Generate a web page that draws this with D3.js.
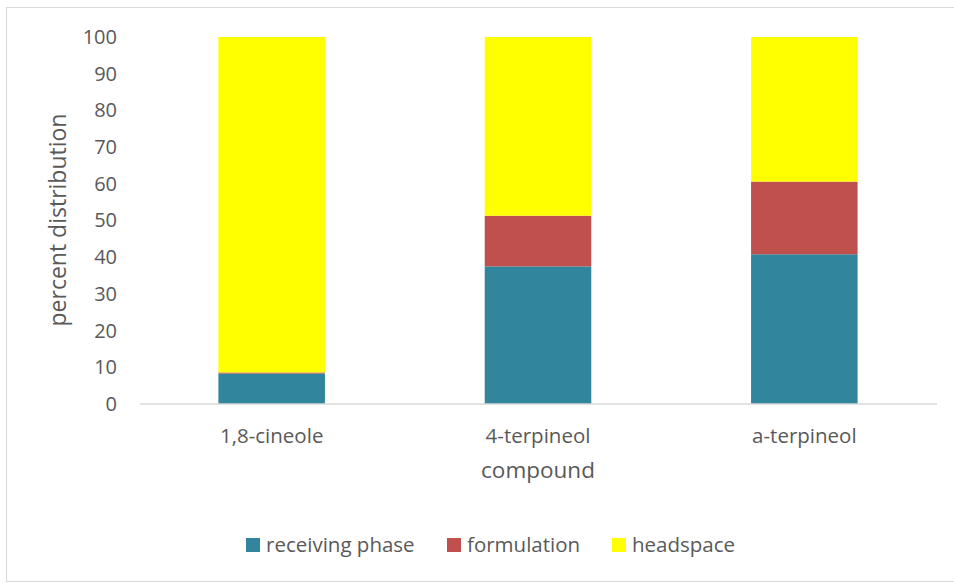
<!DOCTYPE html>
<html>
<head>
    <title>percent distribution by compound</title>
    <meta charset="utf-8">
    <style>
        body { margin: 0; background: #fff; }
        text { font-family: "Open Sans", Calibri, sans-serif; fill: #595959; }
    </style>
</head>
<body>

<svg id="svg"></svg>
<script src="https://cdn.jsdelivr.net/npm/d3@7"></script>
<script>
    // values (percent)
    const compounds = ['1,8-cineole', '4-terpineol', 'a-terpineol']
    const receivingPhase = [8.3, 37.5, 40.8]
    const formulation = [0.3, 13.8, 19.8]
    const headspace = [91.4, 48.7, 39.4]
    const seriesNames = ['receiving phase', 'formulation', 'headspace']
    const seriesColors = ['#31859C', '#C0504D', '#FFFF00']
    const yTicks = [0, 10, 20, 30, 40, 50, 60, 70, 80, 90, 100]

    const WIDTH = 954
    const HEIGHT = 583

    const svg = d3.select('svg')
        .attr('width', WIDTH)
        .attr('height', HEIGHT)

    // chart frame
    svg.append('rect')
        .attr('x', 6.5)
        .attr('y', 7.5)
        .attr('width', 960)
        .attr('height', 574)
        .attr('fill', 'none')
        .attr('stroke', '#d9d9d9')

    const rows = compounds.map((c, i) => ({
        compound: c,
        'receiving phase': receivingPhase[i],
        'formulation': formulation[i],
        'headspace': headspace[i]
    }))

    const stacked = d3.stack().keys(seriesNames)(rows)

    const x = d3.scaleBand()
        .domain(compounds)
        .range([138.5, 937.5])
        .paddingInner(0.6)
        .paddingOuter(0.3)

    const y = d3.scaleLinear()
        .domain([0, 100])
        .range([404, 37])

    const color = d3.scaleOrdinal().domain(seriesNames).range(seriesColors)

    svg.append('g')
        .selectAll('g')
        .data(stacked)
        .enter().append('g')
        .attr('fill', (s) => color(s.key))
        .selectAll('rect')
        .data((s) => s)
        .enter().append('rect')
        .attr('x', (d) => x(d.data.compound))
        .attr('width', x.bandwidth())
        .attr('y', (d) => y(d[1]))
        .attr('height', (d) => y(d[0]) - y(d[1]))

    // y axis: labels only
    const yAxis = svg.append('g')
        .attr('transform', 'translate(117,0)')
        .call(d3.axisLeft(y).tickValues(yTicks).tickSize(0).tickPadding(0))
    yAxis.select('.domain').remove()
    yAxis.selectAll('text')
        .attr('font-size', 20)
        .attr('fill', '#595959')
        .attr('font-family', '"Open Sans", sans-serif')

    // x axis
    const xAxis = svg.append('g')
        .attr('transform', 'translate(0,404)')
        .call(d3.axisBottom(x).tickSize(0).tickPadding(24))
    xAxis.select('.domain')
        .attr('stroke', '#d9d9d9')
        .attr('stroke-width', 1.5)
        .attr('d', 'M140,0H937')
    xAxis.selectAll('text')
        .attr('font-size', 20.5)
        .attr('fill', '#595959')
        .attr('font-family', '"Open Sans", sans-serif')

    // axis titles
    svg.append('text')
        .attr('x', 538)
        .attr('y', 478)
        .attr('text-anchor', 'middle')
        .attr('font-size', 22.5)
        .text('compound')

    svg.append('text')
        .attr('transform', 'translate(66,220) rotate(-90)')
        .attr('text-anchor', 'middle')
        .attr('font-size', 23)
        .text('percent distribution')

    // legend
    const legendX = [246, 447, 612]
    const legend = svg.append('g')
        .selectAll('g')
        .data(seriesNames)
        .enter().append('g')
        .attr('transform', (d, i) => `translate(${legendX[i]},538)`)
    legend.append('rect')
        .attr('width', 14)
        .attr('height', 14)
        .attr('fill', (d) => color(d))
    legend.append('text')
        .attr('x', 20)
        .attr('y', 14)
        .attr('font-size', 20.5)
        .text((d) => d)
</script>
</body>
</html>
